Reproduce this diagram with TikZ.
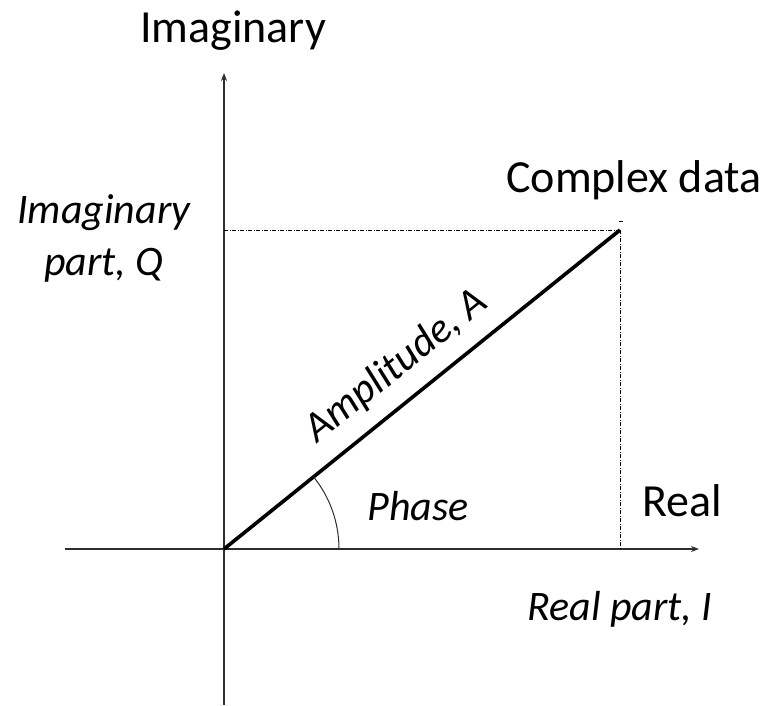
\documentclass[tikz,border=0pt]{standalone}
\usepackage{fontspec}
\setmainfont{Carlito}
\usepackage{xcolor}
\usepackage{tikz}
\usetikzlibrary{arrows.meta, calc}
\definecolor{ink}{HTML}{000000}
\definecolor{axisgray}{HTML}{2E2E2E}

\begin{document}
\begin{tikzpicture}[x=1pt, y=-1pt,
  axis/.style={axisgray, line width=1.3pt, -{Stealth[length=8pt, width=6pt]}},
  guide/.style={ink, line width=1pt, dash pattern=on 4pt off 1.5pt on 1pt off 1.5pt},
  lbl/.style={font=\fontsize{46}{52}\selectfont, inner sep=0pt},
  ilbl/.style={font=\fontsize{42}{52}\selectfont\itshape, inner sep=0pt}]
  \useasboundingbox (0,0) rectangle (773,705);
  % axes and the complex point
  \coordinate (O) at (224,549);
  \coordinate (P) at (620,230);
  \coordinate (xl) at (65,549);
  \coordinate (xr) at (699,549);
  \coordinate (yb) at (224,705);
  \coordinate (yt) at (224,73);
  \draw[axis] (xl) -- (xr);
  \draw[axis] (yb) -- (yt);
  % projections onto the axes
  \draw[guide] (P) -- (P -| O);
  \draw[guide] (P) -- (P |- O);
  \draw[ink, line width=0.8pt] (619,221) -- (623,221);
  % amplitude vector and phase angle
  \draw[ink, line width=3.6pt] (O) -- (P);
  \draw[axisgray, line width=1pt] ($(O)+(115,0)$) arc[start angle=0, end angle=-38.9, radius=115];
  \path (O) -- (P) node[ilbl, sloped, pos=0.49, above=16pt] (amp) {Amplitude, A};
  % labels
  \node[lbl, anchor=base] (imag) at (233,42) {Imaginary};
  \node[lbl, anchor=base] (data) at (634,192) {Complex data};
  \node[lbl, anchor=base] (real) at (682,516) {Real};
  \node[ilbl, anchor=base, align=center] (qpart) at (104,275) {Imaginary\\part, Q};
  \node[ilbl, anchor=base] (phase) at (418,520) {Phase};
  \node[ilbl, anchor=base] (ipart) at (620,620) {Real part, I};
\end{tikzpicture}
\end{document}
